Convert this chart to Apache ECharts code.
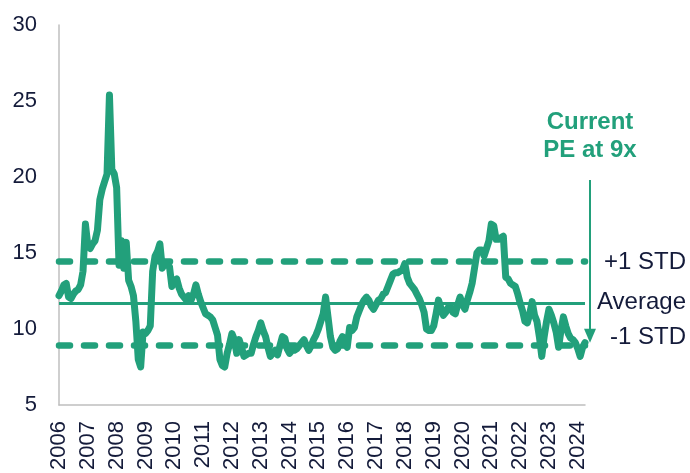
<!DOCTYPE html>
<html>
<head>
<meta charset="utf-8">
<script src="https://cdn.jsdelivr.net/npm/echarts@6/dist/echarts.min.js"></script>
<style>
html,body{margin:0;padding:0;background:#fff;}
#chart{width:690px;height:473px;}
</style>
</head>
<body>
<div id="chart"></div>
<script>
// Tick labels (one per January)
const tickYears = ['2006','2007','2008','2009','2010','2011','2012','2013','2014','2015','2016','2017','2018','2019','2020','2021','2022','2023','2024'];

// Monthly PE values, Jan 2006 .. Apr 2024
const pe2006 = [12.2,12.5,12.9,13.0,12.1,12.0,12.3,12.5,12.6,12.9,13.8,16.9];
const pe2007 = [15.5,15.3,15.6,15.8,16.5,18.5,19.2,19.7,20.2,25.4,20.5,20.2];
const pe2008 = [19.3,14.2,15.8,14.0,15.7,13.2,12.8,12.2,10.5,8.0,7.5,9.8];
const pe2009 = [9.7,9.9,10.2,13.8,14.8,15.1,15.6,14.0,14.3,14.2,14.1,12.8];
const pe2010 = [13.2,13.3,12.7,12.3,12.1,11.9,12.2,11.9,12.3,12.9,12.3,11.8];
const pe2011 = [11.4,11.0,10.9,10.8,10.6,10.1,9.6,8.0,7.6,7.5,8.4,9.0];
const pe2012 = [9.7,9.3,8.4,9.3,8.8,8.2,8.3,8.4,8.4,9.0,9.5,9.9];
const pe2013 = [10.4,9.9,9.5,8.8,8.2,8.4,8.6,8.3,8.9,9.5,9.4,8.7];
const pe2014 = [8.4,8.6,8.6,8.7,8.9,9.1,9.3,8.9,8.6,8.9,9.3,9.6];
const pe2015 = [10.0,10.5,11.0,12.1,10.8,9.5,8.8,8.6,8.7,9.2,9.5,9.0];
const pe2016 = [8.8,10.1,9.9,10.1,10.8,11.2,11.6,11.9,12.1,11.9,11.5,11.3];
const pe2017 = [11.6,11.9,12.0,12.3,12.4,12.8,13.2,13.6,13.7,13.7,13.8,13.9];
const pe2018 = [14.3,13.4,13.0,12.8,12.6,12.3,12.0,11.6,11.1,10.0,9.9,9.9];
const pe2019 = [10.2,11.0,11.9,11.4,10.9,11.1,11.4,11.5,11.1,11.0,11.6,12.1];
const pe2020 = [11.6,11.3,11.9,12.4,13.0,14.0,15.0,15.2,15.2,14.8,15.3,15.8];
const pe2021 = [16.9,16.8,15.9,15.9,16.0,16.1,13.4,13.3,13.0,12.9,12.8,12.3];
const pe2022 = [11.7,11.2,10.5,10.4,11.0,11.8,10.9,10.5,9.5,8.2,9.5,10.5];
const pe2023 = [11.3,10.9,10.4,9.8,8.8,9.9,10.8,10.2,9.7,9.4,9.3,9.1];
const pe2024 = [8.7,8.2,8.8,9.1];

// Reference levels
const plusStd = 14.45;
const average = 11.7;
const minusStd = 8.95;
const currentPE = 9.1;

// Right-side labels
const levelLabels = ['+1 STD','Average','-1 STD'];
const currentText = 'Current\nPE at 9x';

const pe = [].concat(pe2006,pe2007,pe2008,pe2009,pe2010,pe2011,pe2012,pe2013,pe2014,pe2015,pe2016,pe2017,pe2018,pe2019,pe2020,pe2021,pe2022,pe2023,pe2024);
const categories = [];
tickYears.forEach(function(y){ for (let m = 1; m <= 12; m++) categories.push(y + '-' + (m < 10 ? '0' + m : m)); });
const cats = categories.slice(0, pe.length);

const GREEN = '#22a07b';
const NAVY = '#141b3a';
const FONT = '"Liberation Sans", Arial, sans-serif';

const chart = echarts.init(document.getElementById('chart'), null, {renderer:'canvas'});
chart.setOption({
  animation:false,
  grid:{left:59, right:105, top:25, bottom:68, containLabel:false},
  xAxis:{
    type:'category', data:cats, boundaryGap:false,
    axisLine:{show:true, lineStyle:{color:'#bfbfbf', width:1.5}},
    axisTick:{show:false},
    splitLine:{show:false},
    axisLabel:{
      rotate:90, margin:16, color:NAVY, fontSize:22, fontFamily:FONT,
      interval:function(i, v){ return v.slice(5) === '01'; },
      formatter:function(v){ return v.slice(0,4); }
    }
  },
  yAxis:{
    type:'value', min:5, max:30, interval:5,
    axisLine:{show:true, lineStyle:{color:'#bfbfbf', width:1.5}},
    axisTick:{show:false},
    splitLine:{show:false},
    axisLabel:{margin:22, color:NAVY, fontSize:22, fontFamily:FONT}
  },
  series:[{
    type:'line', data:pe, showSymbol:false, smooth:false,
    lineStyle:{color:GREEN, width:7, cap:'round', join:'round'},
    z:3,
    markLine:{
      silent:true, symbol:'none', label:{show:false}, z:2,
      data:[
        {yAxis:plusStd, lineStyle:{color:GREEN, width:6.5, type:[11,14], cap:'round'}},
        {yAxis:average, lineStyle:{color:GREEN, width:3, type:'solid'}},
        {yAxis:minusStd, lineStyle:{color:GREEN, width:6.5, type:[11,14], cap:'round'}}
      ]
    }
  }]
});

// Annotations positioned through the axis scale
const yPlus = chart.convertToPixel({yAxisIndex:0}, plusStd);
const yAvg = chart.convertToPixel({yAxisIndex:0}, average);
const yMinus = chart.convertToPixel({yAxisIndex:0}, minusStd);
const yCur = chart.convertToPixel({yAxisIndex:0}, currentPE);
const arrowX = 590;
const textStyle = {fill:NAVY, font:'24px ' + FONT, textAlign:'right', textVerticalAlign:'middle'};
chart.setOption({
  graphic:[
    {type:'text', x:686, y:yPlus + 1, style:Object.assign({text:levelLabels[0]}, textStyle)},
    {type:'text', x:686, y:yAvg - 1, style:Object.assign({text:levelLabels[1]}, textStyle)},
    {type:'text', x:686, y:yMinus - 8, style:Object.assign({text:levelLabels[2]}, textStyle)},
    {type:'text', x:arrowX, y:136, style:{text:currentText, fill:GREEN, font:'bold 24px ' + FONT, textAlign:'center', textVerticalAlign:'middle', lineHeight:28}},
    {type:'line', shape:{x1:arrowX, y1:180, x2:arrowX, y2:yCur - 12}, style:{stroke:GREEN, lineWidth:2}},
    {type:'polygon', shape:{points:[[arrowX - 6, yCur - 14],[arrowX + 6, yCur - 14],[arrowX, yCur]]}, style:{fill:GREEN}}
  ]
});
</script>
</body>
</html>
